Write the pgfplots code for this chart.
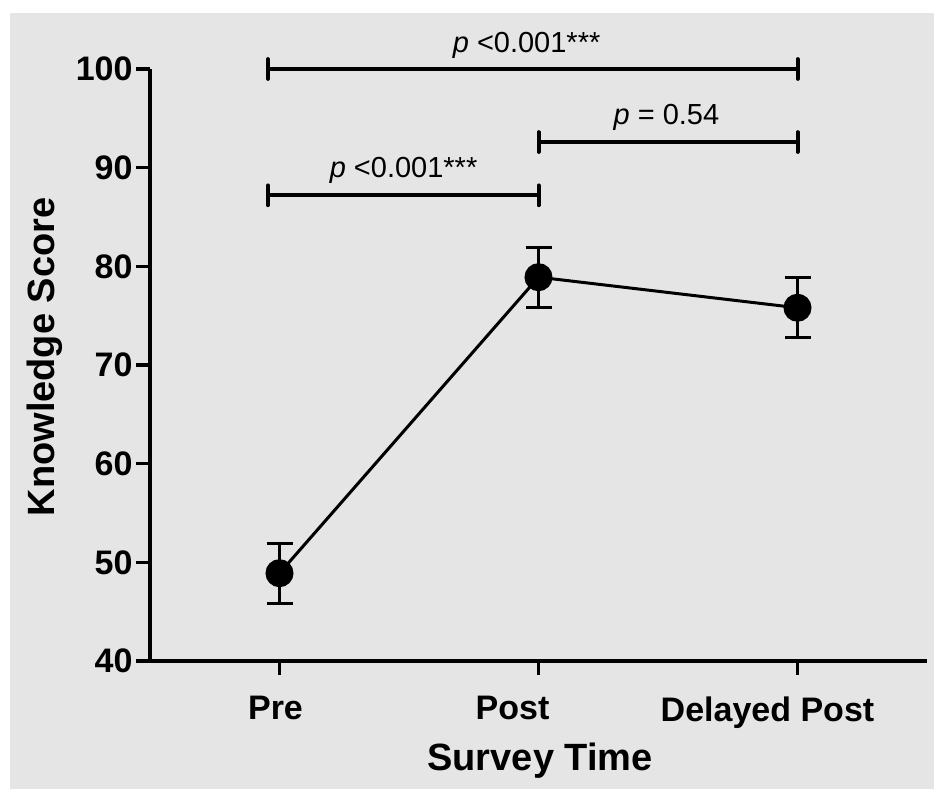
\documentclass[border=0pt]{standalone}
\usepackage{pgfplots}
\pgfplotsset{compat=1.18}
\usepackage{fontspec}
\setmainfont{Liberation Sans}
\definecolor{bg}{RGB}{229,229,229}

\begin{document}
\begin{tikzpicture}
  % page background: white margin at top and left, grey panel
  \fill[white] (0,0) rectangle (934bp,789bp);
  \fill[bg] (10bp,0) rectangle (934bp,776bp);

  \begin{axis}[
      at={(150bp,128bp)}, anchor=south west,
      scale only axis,
      width=777bp, height=592bp,
      xmin=-0.5, xmax=2.5,
      ymin=40, ymax=100,
      clip=false,
      axis lines*=left,
      axis line style={line width=4bp, black},
      tick style={line width=3.5bp, black},
      tick align=outside,
      major tick length=14bp,
      xtick={0,1,2},
      xticklabels={{\hspace*{-8bp}Pre}, {\hspace*{-52bp}Post}, {\hspace*{-60bp}Delayed Post}},
      ytick={40,50,...,100},
      /pgf/number format/assume math mode=true,
      ticklabel style={font=\fontsize{34bp}{40bp}\selectfont\bfseries},
      xticklabel style={yshift=-18bp},
      xlabel={Survey Time},
      ylabel={Knowledge Score},
      label style={font=\fontsize{38bp}{44bp}\selectfont\bfseries},
      xlabel style={at={(axis description cs:0.502,-0.1858)}, anchor=base},
      ylabel style={at={(axis description cs:-0.1223,0.5135)}, anchor=base},
    ]

    % mean knowledge score with error bars
    \addplot[black, line width=3bp, mark=*, mark size=12.5bp,
      error bars/.cd, y dir=both, y explicit,
      error bar style={line width=3bp},
      error mark options={rotate=90, mark size=13bp, line width=3bp}]
      table[x=x, y=y, y error=e] {
        x   y     e
        0   48.9  3.05
        1   78.9  3.05
        2   75.8  3.05
      };

    % significance brackets
    \draw[line width=4bp] (axis cs:-0.045,100) -- (axis cs:2,100);
    \draw[line width=4bp] (axis cs:1,92.6) -- (axis cs:2,92.6);
    \draw[line width=4bp] (axis cs:-0.045,87.2) -- (axis cs:1,87.2);
    \draw[line width=4bp, line cap=round]
      (axis cs:-0.045,99) -- (axis cs:-0.045,101)
      (axis cs:2,99) -- (axis cs:2,101)
      (axis cs:1,91.6) -- (axis cs:1,93.6)
      (axis cs:2,91.6) -- (axis cs:2,93.6)
      (axis cs:-0.045,86.2) -- (axis cs:-0.045,88.2)
      (axis cs:1,86.2) -- (axis cs:1,88.2);

    \node[anchor=base, font=\fontsize{29bp}{31bp}\selectfont]
      at (axis cs:0.954,101.7) {\textit{p} <0.001***};
    \node[anchor=base, font=\fontsize{29bp}{31bp}\selectfont]
      at (axis cs:1.494,94.4) {\textit{p} = 0.54};
    \node[anchor=base, font=\fontsize{29bp}{31bp}\selectfont]
      at (axis cs:0.479,89.05) {\textit{p} <0.001***};
  \end{axis}

  \pgfresetboundingbox
  \useasboundingbox (0,0) rectangle (934bp,789bp);
\end{tikzpicture}
\end{document}
